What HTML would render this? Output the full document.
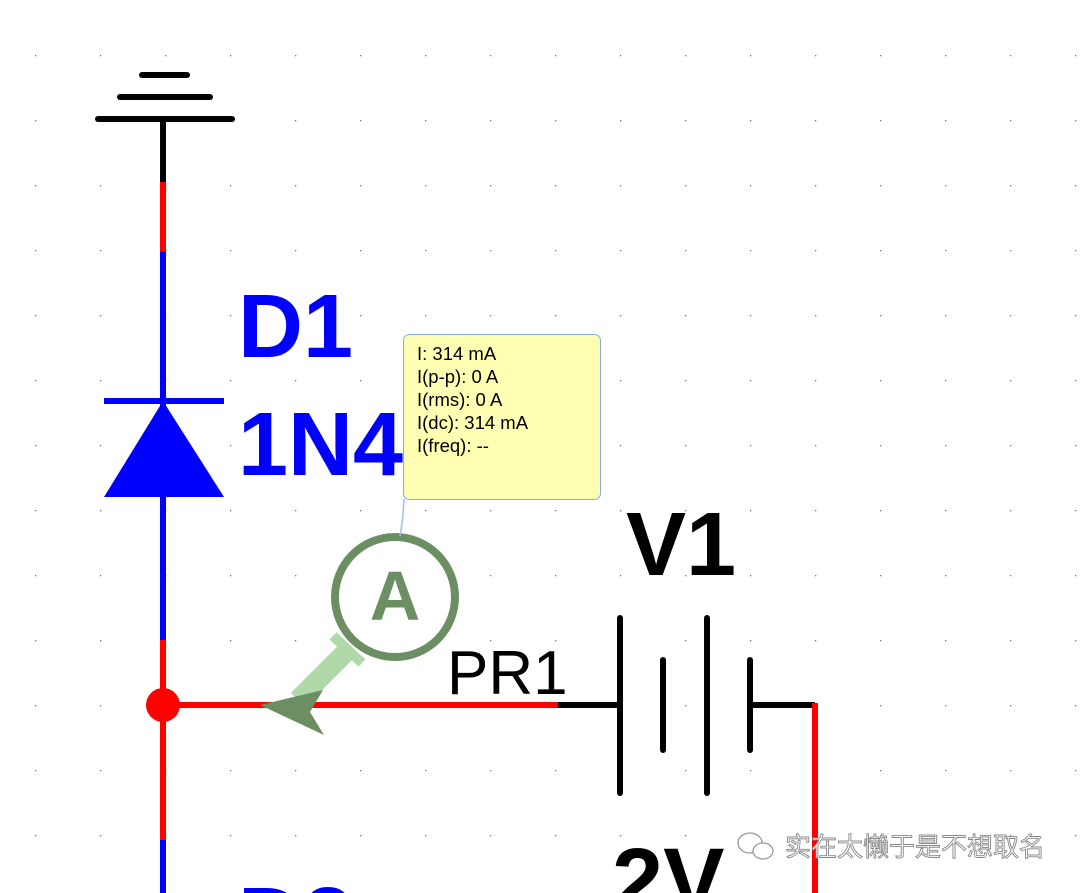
<!DOCTYPE html>
<html><head><meta charset="utf-8"><style>
html,body{margin:0;padding:0;background:#fff;width:1080px;height:893px;overflow:hidden}
svg{display:block}
text{font-family:"Liberation Sans",Arial,sans-serif}
</style></head><body>
<svg width="1080" height="893" viewBox="0 0 1080 893" xmlns="http://www.w3.org/2000/svg">
<defs>
<pattern id="g" x="35" y="55" width="65" height="65" patternUnits="userSpaceOnUse">
<rect x="0" y="0" width="1.3" height="1.3" fill="#777"/>
</pattern>
</defs>
<rect width="1080" height="893" fill="url(#g)"/>
<g stroke="#000" stroke-width="6" stroke-linecap="round">
<line x1="142" y1="75" x2="187" y2="75"/>
<line x1="120" y1="97" x2="210" y2="97"/>
<line x1="98" y1="119" x2="232" y2="119"/>
</g>
<line x1="163" y1="119" x2="163" y2="182" stroke="#000" stroke-width="6"/>
<line x1="163" y1="182" x2="163" y2="252" stroke="#f00" stroke-width="6"/>
<line x1="163" y1="252" x2="163" y2="640" stroke="#00f" stroke-width="6"/>
<line x1="163" y1="640" x2="163" y2="840" stroke="#f00" stroke-width="6"/>
<line x1="163" y1="840" x2="163" y2="893" stroke="#00f" stroke-width="6"/>
<line x1="104" y1="401" x2="224" y2="401" stroke="#00f" stroke-width="6"/>
<polygon points="163,401 104,497 224,497" fill="#00f"/>
<text x="238" y="357" font-size="90" font-weight="bold" fill="#00f">D1</text>
<text x="238" y="475" font-size="90" font-weight="bold" fill="#00f">1N4</text>
<text x="238" y="950" font-size="90" font-weight="bold" fill="#00f">D2</text>
<line x1="163" y1="705" x2="558" y2="705" stroke="#f00" stroke-width="6"/>
<line x1="558" y1="705" x2="620" y2="705" stroke="#000" stroke-width="6"/>
<circle cx="163" cy="705" r="17" fill="#f00"/>
<g stroke="#000" stroke-width="6" stroke-linecap="round">
<line x1="620" y1="618" x2="620" y2="793"/>
<line x1="663" y1="660" x2="663" y2="750"/>
<line x1="707" y1="618" x2="707" y2="793"/>
<line x1="750" y1="660" x2="750" y2="750"/>
</g>
<line x1="750" y1="705" x2="815" y2="705" stroke="#000" stroke-width="6"/>
<line x1="815" y1="703" x2="815" y2="893" stroke="#f00" stroke-width="6"/>
<text x="626" y="575" font-size="90" font-weight="bold" fill="#000">V1</text>
<text x="612" y="912" font-size="92" font-weight="bold" fill="#000">2V</text>
<text x="447" y="694" font-size="62" fill="#000">PR1</text>
<line x1="350" y1="648" x2="298" y2="700" stroke="#b0d8a8" stroke-width="20"/>
<line x1="333" y1="636" x2="362" y2="663" stroke="#b0d8a8" stroke-width="10"/>
<polygon points="260,705 323,690 310,712 324,735" fill="#6b8f62"/>
<circle cx="395" cy="597" r="60" fill="#fff" stroke="#6b8f62" stroke-width="8"/>
<text x="395" y="620" font-size="70" font-weight="bold" fill="#6b8f62" text-anchor="middle">A</text>
<path d="M404 499 Q403 520 400 536" stroke="#a8bde8" stroke-width="1.5" fill="none"/>
<rect x="403.5" y="334.5" width="197" height="165" rx="6" fill="#ffffb4" stroke="#8aa7e8" stroke-width="1"/>
<g font-size="18.5" fill="#000">
<text x="417" y="360">I: 314 mA</text>
<text x="417" y="383">I(p-p): 0 A</text>
<text x="417" y="406">I(rms): 0 A</text>
<text x="417" y="429">I(dc): 314 mA</text>
<text x="417" y="452">I(freq): --</text>
</g>
<g fill="#fff" stroke="#999" stroke-width="1.3">
<ellipse cx="750" cy="843" rx="12" ry="10"/>
<ellipse cx="763" cy="851" rx="10" ry="8"/>
</g>
<text x="785" y="856" font-size="26" fill="#fff" stroke="#888" stroke-width="0.9" style='font-family:"Liberation Sans","Noto Sans CJK SC",sans-serif'>实在太懒于是不想取名</text>
</svg>
</body></html>
